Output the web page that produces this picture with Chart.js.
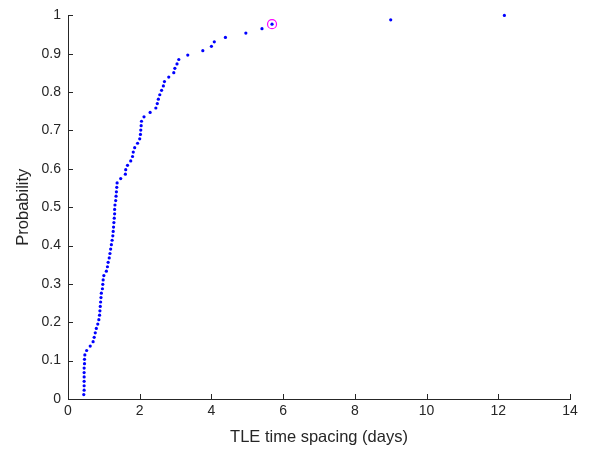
<!DOCTYPE html>
<html>
<head>
<meta charset="utf-8">
<script src="https://cdn.jsdelivr.net/npm/chart.js@4/dist/chart.umd.min.js"></script>
<style>
  html, body { margin: 0; padding: 0; background: #fff; }
  #wrap { width: 590px; height: 452px; position: relative; }
</style>
</head>
<body>
<div id="wrap"><canvas id="cdfChart"></canvas></div>
<script>
// TLE time spacing (days), sorted
const spacing = [
  0.44, 0.45, 0.45, 0.45, 0.45, 0.45, 0.45, 0.46, 0.46, 0.47,
  0.52, 0.62, 0.70, 0.73, 0.76, 0.79, 0.83, 0.86, 0.88, 0.89,
  0.90, 0.91, 0.92, 0.93, 0.96, 0.97, 0.98, 1.00, 1.07, 1.10,
  1.12, 1.15, 1.17, 1.19, 1.21, 1.23, 1.25, 1.26, 1.27, 1.28,
  1.29, 1.30, 1.30, 1.31, 1.33, 1.34, 1.35, 1.36, 1.37, 1.47,
  1.60, 1.61, 1.66, 1.75, 1.80, 1.82, 1.86, 1.94, 2.00, 2.02,
  2.03, 2.04, 2.05, 2.12, 2.29, 2.45, 2.49, 2.52, 2.56, 2.61,
  2.66, 2.69, 2.81, 2.95, 2.98, 3.04, 3.09, 3.34, 3.76, 4.00,
  4.08, 4.39, 4.96, 5.41, 5.69, 9.00, 12.17
];

// cumulative probability for each sample
const probability = [
  0.0115, 0.0230, 0.0345, 0.0460, 0.0575, 0.0690, 0.0805, 0.0920, 0.1034, 0.1149,
  0.1264, 0.1379, 0.1494, 0.1609, 0.1724, 0.1839, 0.1954, 0.2069, 0.2184, 0.2299,
  0.2414, 0.2529, 0.2644, 0.2759, 0.2874, 0.2989, 0.3103, 0.3218, 0.3333, 0.3448,
  0.3563, 0.3678, 0.3793, 0.3908, 0.4023, 0.4138, 0.4253, 0.4368, 0.4483, 0.4598,
  0.4713, 0.4828, 0.4943, 0.5057, 0.5172, 0.5287, 0.5402, 0.5517, 0.5632, 0.5747,
  0.5862, 0.5977, 0.6092, 0.6207, 0.6322, 0.6437, 0.6552, 0.6667, 0.6782, 0.6897,
  0.7011, 0.7126, 0.7241, 0.7356, 0.7471, 0.7586, 0.7701, 0.7816, 0.7931, 0.8046,
  0.8161, 0.8276, 0.8391, 0.8506, 0.8621, 0.8736, 0.8851, 0.8966, 0.9080, 0.9195,
  0.9310, 0.9425, 0.9540, 0.9655, 0.9770, 0.9885, 1.0000
];

// highlighted sample
const markedX = [5.69];
const markedY = [0.9770];

const xTicks = [0, 2, 4, 6, 8, 10, 12, 14];
const yTicks = [0, 0.1, 0.2, 0.3, 0.4, 0.5, 0.6, 0.7, 0.8, 0.9, 1];
const yTickLabels = ['0', '0.1', '0.2', '0.3', '0.4', '0.5', '0.6', '0.7', '0.8', '0.9', '1'];

const axisColor = '#262626';
const fontFamily = '"Liberation Sans", Arial, Helvetica, sans-serif';

// ticks drawn inside the plot area, like the matlab figure
const inwardTicks = {
    id: 'inwardTicks',
    afterDatasetsDraw(chart) {
        const { ctx, chartArea, scales } = chart;
        ctx.save();
        ctx.strokeStyle = axisColor;
        ctx.lineWidth = 1;
        ctx.beginPath();
        xTicks.forEach(v => {
            const px = Math.round(scales.x.getPixelForValue(v)) + 0.5;
            ctx.moveTo(px, chartArea.bottom);
            ctx.lineTo(px, chartArea.bottom - 5);
        });
        yTicks.forEach(v => {
            const py = Math.round(scales.y.getPixelForValue(v)) + 0.5;
            ctx.moveTo(chartArea.left, py);
            ctx.lineTo(chartArea.left + 5, py);
        });
        ctx.stroke();
        ctx.restore();
    }
};

const points = spacing.map((s, i) => ({ x: s, y: probability[i] }));
const marked = markedX.map((s, i) => ({ x: s, y: markedY[i] }));

new Chart(document.getElementById('cdfChart'), {
    type: 'scatter',
    data: {
        datasets: [
            {
                data: points,
                pointStyle: 'circle',
                pointRadius: 1.6,
                pointBorderWidth: 0,
                backgroundColor: '#0000ff',
                borderColor: '#0000ff',
                clip: false,
                order: 1
            },
            {
                data: marked,
                pointStyle: 'circle',
                pointRadius: 4.5,
                pointBorderWidth: 1.2,
                backgroundColor: 'rgba(0,0,0,0)',
                borderColor: '#ff00ff',
                clip: false,
                order: 2
            }
        ]
    },
    options: {
        responsive: true,
        maintainAspectRatio: false,
        animation: false,
        layout: { padding: { top: 8, right: 20, left: 0, bottom: 0 } },
        plugins: {
            legend: { display: false },
            tooltip: { enabled: false }
        },
        scales: {
            x: {
                type: 'linear',
                min: 0,
                max: 14,
                afterBuildTicks: axis => { axis.ticks = xTicks.map(v => ({ value: v })); },
                afterFit: axis => { axis.height = 53; },
                grid: { drawOnChartArea: false, drawTicks: false },
                border: { display: true, color: axisColor, width: 1 },
                ticks: {
                    color: axisColor,
                    padding: 4,
                    maxRotation: 0,
                    font: { family: fontFamily, size: 14 }
                },
                title: {
                    display: true,
                    text: 'TLE time spacing (days)',
                    color: axisColor,
                    padding: { top: 0, bottom: 5 },
                    font: { family: fontFamily, size: 16.5 }
                }
            },
            y: {
                type: 'linear',
                min: 0,
                max: 1,
                afterBuildTicks: axis => { axis.ticks = yTicks.map(v => ({ value: v })); },
                afterFit: axis => { axis.width = 68; },
                grid: { drawOnChartArea: false, drawTicks: false },
                border: { display: true, color: axisColor, width: 1 },
                ticks: {
                    color: axisColor,
                    padding: 7,
                    font: { family: fontFamily, size: 14 },
                    callback: (value, index) => yTickLabels[index]
                },
                title: {
                    display: true,
                    text: 'Probability',
                    color: axisColor,
                    padding: { top: 14, bottom: 0 },
                    font: { family: fontFamily, size: 16.5 }
                }
            }
        }
    },
    plugins: [inwardTicks]
});
</script>
</body>
</html>
